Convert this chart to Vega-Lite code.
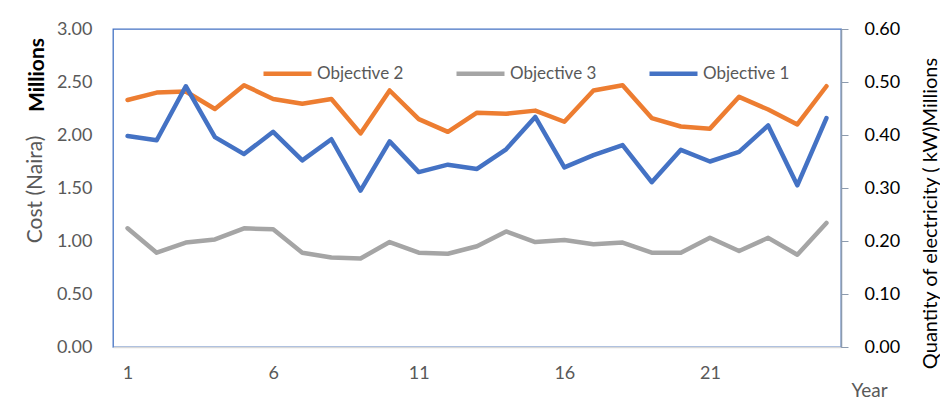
{
  "$schema": "https://vega.github.io/schema/vega-lite/v6.json",
  "width": 728,
  "height": 318,
  "autosize": {"type": "none"},
  "padding": {"left": 113, "top": 29, "right": 99, "bottom": 57},
  "background": "white",
  "config": {
    "font": "Lato",
    "view": {"stroke": "#4472C4", "strokeWidth": 1.3},
    "axis": {"grid": false, "labelFont": "Lato", "titleFont": "Lato"}
  },
  "title": {
    "text": "Millions",
    "orient": "left",
    "anchor": "end",
    "frame": "group",
    "font": "Lato",
    "fontSize": 21,
    "fontWeight": "bold",
    "color": "#000000",
    "offset": -24,
    "dx": -9
  },
  "datasets": {
    "cost": [
      {"year": 1, "series": "Objective 2", "value": 2.33},
      {"year": 2, "series": "Objective 2", "value": 2.40},
      {"year": 3, "series": "Objective 2", "value": 2.41},
      {"year": 4, "series": "Objective 2", "value": 2.245},
      {"year": 5, "series": "Objective 2", "value": 2.47},
      {"year": 6, "series": "Objective 2", "value": 2.34},
      {"year": 7, "series": "Objective 2", "value": 2.295},
      {"year": 8, "series": "Objective 2", "value": 2.34},
      {"year": 9, "series": "Objective 2", "value": 2.015},
      {"year": 10, "series": "Objective 2", "value": 2.42},
      {"year": 11, "series": "Objective 2", "value": 2.15},
      {"year": 12, "series": "Objective 2", "value": 2.03},
      {"year": 13, "series": "Objective 2", "value": 2.21},
      {"year": 14, "series": "Objective 2", "value": 2.20},
      {"year": 15, "series": "Objective 2", "value": 2.23},
      {"year": 16, "series": "Objective 2", "value": 2.125},
      {"year": 17, "series": "Objective 2", "value": 2.42},
      {"year": 18, "series": "Objective 2", "value": 2.47},
      {"year": 19, "series": "Objective 2", "value": 2.16},
      {"year": 20, "series": "Objective 2", "value": 2.08},
      {"year": 21, "series": "Objective 2", "value": 2.06},
      {"year": 22, "series": "Objective 2", "value": 2.36},
      {"year": 23, "series": "Objective 2", "value": 2.24},
      {"year": 24, "series": "Objective 2", "value": 2.10},
      {"year": 25, "series": "Objective 2", "value": 2.46},
      {"year": 1, "series": "Objective 3", "value": 1.12},
      {"year": 2, "series": "Objective 3", "value": 0.89},
      {"year": 3, "series": "Objective 3", "value": 0.985},
      {"year": 4, "series": "Objective 3", "value": 1.015},
      {"year": 5, "series": "Objective 3", "value": 1.12},
      {"year": 6, "series": "Objective 3", "value": 1.11},
      {"year": 7, "series": "Objective 3", "value": 0.89},
      {"year": 8, "series": "Objective 3", "value": 0.845},
      {"year": 9, "series": "Objective 3", "value": 0.835},
      {"year": 10, "series": "Objective 3", "value": 0.99},
      {"year": 11, "series": "Objective 3", "value": 0.89},
      {"year": 12, "series": "Objective 3", "value": 0.88},
      {"year": 13, "series": "Objective 3", "value": 0.95},
      {"year": 14, "series": "Objective 3", "value": 1.09},
      {"year": 15, "series": "Objective 3", "value": 0.99},
      {"year": 16, "series": "Objective 3", "value": 1.01},
      {"year": 17, "series": "Objective 3", "value": 0.97},
      {"year": 18, "series": "Objective 3", "value": 0.985},
      {"year": 19, "series": "Objective 3", "value": 0.89},
      {"year": 20, "series": "Objective 3", "value": 0.89},
      {"year": 21, "series": "Objective 3", "value": 1.03},
      {"year": 22, "series": "Objective 3", "value": 0.905},
      {"year": 23, "series": "Objective 3", "value": 1.03},
      {"year": 24, "series": "Objective 3", "value": 0.87},
      {"year": 25, "series": "Objective 3", "value": 1.17}
    ],
    "qty": [
      {"year": 1, "series": "Objective 1", "value": 0.398},
      {"year": 2, "series": "Objective 1", "value": 0.390},
      {"year": 3, "series": "Objective 1", "value": 0.492},
      {"year": 4, "series": "Objective 1", "value": 0.396},
      {"year": 5, "series": "Objective 1", "value": 0.364},
      {"year": 6, "series": "Objective 1", "value": 0.406},
      {"year": 7, "series": "Objective 1", "value": 0.352},
      {"year": 8, "series": "Objective 1", "value": 0.392},
      {"year": 9, "series": "Objective 1", "value": 0.295},
      {"year": 10, "series": "Objective 1", "value": 0.388},
      {"year": 11, "series": "Objective 1", "value": 0.330},
      {"year": 12, "series": "Objective 1", "value": 0.344},
      {"year": 13, "series": "Objective 1", "value": 0.336},
      {"year": 14, "series": "Objective 1", "value": 0.373},
      {"year": 15, "series": "Objective 1", "value": 0.434},
      {"year": 16, "series": "Objective 1", "value": 0.339},
      {"year": 17, "series": "Objective 1", "value": 0.362},
      {"year": 18, "series": "Objective 1", "value": 0.381},
      {"year": 19, "series": "Objective 1", "value": 0.311},
      {"year": 20, "series": "Objective 1", "value": 0.372},
      {"year": 21, "series": "Objective 1", "value": 0.350},
      {"year": 22, "series": "Objective 1", "value": 0.368},
      {"year": 23, "series": "Objective 1", "value": 0.418},
      {"year": 24, "series": "Objective 1", "value": 0.305},
      {"year": 25, "series": "Objective 1", "value": 0.432}
    ]
  },
  "layer": [
    {
      "data": {"name": "cost"},
      "mark": {"type": "line", "strokeWidth": 4.5, "strokeCap": "round", "strokeJoin": "round"},
      "encoding": {
        "x": {
          "field": "year",
          "type": "ordinal",
          "scale": {"type": "point", "padding": 0.5},
          "axis": {
            "values": [1, 6, 11, 16, 21],
            "labelAngle": 0,
            "labelFontSize": 18,
            "labelColor": "#595959",
            "labelPadding": 17,
            "ticks": false,
            "domainColor": "#D9D9D9",
            "domainWidth": 1.5,
            "title": "Year",
            "titleFontSize": 19,
            "titleFontWeight": "normal",
            "titleColor": "#595959",
            "titleX": 756,
            "titleY": 43,
            "titleAlign": "center",
            "titleBaseline": "middle"
          }
        },
        "y": {
          "field": "value",
          "type": "quantitative",
          "scale": {"domain": [0, 3]},
          "axis": {
            "orient": "left",
            "values": [0, 0.5, 1, 1.5, 2, 2.5, 3],
            "format": ".2f",
            "labelFontSize": 18,
            "labelColor": "#595959",
            "labelPadding": 21,
            "ticks": false,
            "domain": false,
            "title": "Cost (Naira)",
            "titleFontSize": 21,
            "titleFontWeight": "normal",
            "titleColor": "#595959",
            "titleX": -78,
            "titleY": 160,
            "titleAlign": "center",
            "titleBaseline": "middle"
          }
        },
        "color": {
          "field": "series",
          "type": "nominal",
          "scale": {
            "domain": ["Objective 2", "Objective 3", "Objective 1"],
            "range": ["#ED7D31", "#A5A5A5", "#4472C4"]
          },
          "legend": {
            "title": null,
            "orient": "none",
            "legendX": 148,
            "legendY": 18,
            "direction": "horizontal",
            "symbolType": "stroke",
            "symbolSize": 2304,
            "symbolStrokeWidth": 4.5,
            "labelFontSize": 17,
            "labelColor": "#595959",
            "labelOffset": 3,
            "columnPadding": 43
          }
        }
      }
    },
    {
      "data": {"name": "qty"},
      "mark": {"type": "line", "strokeWidth": 4.5, "strokeCap": "round", "strokeJoin": "round"},
      "encoding": {
        "x": {"field": "year", "type": "ordinal"},
        "y": {
          "field": "value",
          "type": "quantitative",
          "scale": {"domain": [0, 0.6]},
          "axis": {
            "orient": "right",
            "values": [0, 0.1, 0.2, 0.3, 0.4, 0.5, 0.6],
            "format": ".2f",
            "labelFontSize": 18,
            "labelColor": "#000000",
            "labelPadding": 16,
            "tickSize": 7,
            "tickColor": "#8C9BAE",
            "domainColor": "#8C9BAE",
            "domainWidth": 1.5,
            "title": "Quantity of electricity ( kW)Millions",
            "titleFontSize": 20,
            "titleFontWeight": "normal",
            "titleColor": "#000000",
            "titleAngle": -90,
            "titleX": 89,
            "titleY": 184,
            "titleAlign": "center",
            "titleBaseline": "middle"
          }
        },
        "color": {"field": "series", "type": "nominal"}
      }
    }
  ],
  "resolve": {"scale": {"y": "independent"}}
}
